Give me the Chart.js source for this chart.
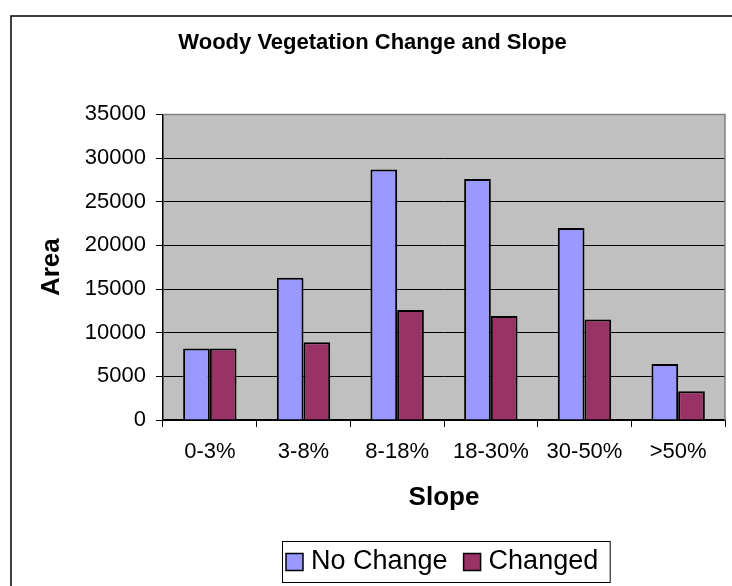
<!DOCTYPE html>
<html><head><meta charset="utf-8">
<style>html,body{margin:0;padding:0;background:#fff}#wrap{width:732px;height:586px;position:relative}canvas{display:block}</style>
<script src="https://cdn.jsdelivr.net/npm/chart.js@4"></script>
</head><body><div id="wrap"><canvas id="c" width="732" height="586"></canvas></div>
<script>
const categories = ['0-3%', '3-8%', '8-18%', '18-30%', '30-50%', '>50%'];
const noChange = [8200, 16300, 28700, 27600, 22000, 6400];
const changed = [8200, 8900, 12600, 11900, 11500, 3300];
const yTicks = [0, 5000, 10000, 15000, 20000, 25000, 30000, 35000];
const titleText = 'Woody Vegetation Change and Slope';
const seriesNames = ['No Change', 'Changed'];

const FAMILY = '"Liberation Sans", Arial, sans-serif';

const frameAndBg = {
  id: 'frameAndBg',
  beforeDraw(chart) {
    const {ctx, chartArea: a} = chart;
    ctx.save();
    ctx.fillStyle = '#fff';
    ctx.fillRect(0, 0, chart.width, chart.height);
    ctx.fillStyle = '#C0C0C0';
    ctx.fillRect(a.left, a.top, a.right - a.left, a.bottom - a.top);
    ctx.restore();
  },
  afterLayout(chart) {
    const t = chart.titleBlock;
    if (t) { t.left += 10; t.right += 10; }
  },
  afterDraw(chart) {
    const {ctx, chartArea: a} = chart;
    ctx.save();
    // plot area top/right border (gray)
    ctx.strokeStyle = '#808080';
    ctx.lineWidth = 1.5;
    ctx.beginPath();
    ctx.moveTo(a.left, a.top);
    ctx.lineTo(a.right, a.top);
    ctx.lineTo(a.right, a.bottom);
    ctx.stroke();
    // outer chart frame
    ctx.strokeStyle = '#000';
    ctx.lineWidth = 1.5;
    ctx.strokeRect(11, 16, 800, 700);
    // legend
    ctx.font = '27px ' + FAMILY;
    ctx.textBaseline = 'middle';
    ctx.textAlign = 'left';
    const cy = 562, box = 17;
    let x = 286;
    const start = x;
    chart.data.datasets.forEach((ds) => {
      ctx.fillStyle = ds.backgroundColor;
      ctx.fillRect(x, cy - box / 2, box, box);
      ctx.strokeStyle = '#000';
      ctx.lineWidth = 1.5;
      ctx.strokeRect(x, cy - box / 2, box, box);
      x += box + 8;
      ctx.fillStyle = '#000';
      ctx.fillText(ds.label, x, cy);
      x += ctx.measureText(ds.label).width + 16;
    });
    const end = x - 16 + 12;
    ctx.strokeStyle = '#000';
    ctx.lineWidth = 1;
    ctx.strokeRect(start - 3.5, 541.5, end - (start - 3.5), 41);
    ctx.restore();
  }
};

new Chart(document.getElementById('c'), {
  type: 'bar',
  data: {
    labels: categories,
    datasets: [
      {label: seriesNames[0], data: noChange, backgroundColor: '#9999FF', borderColor: '#000', borderWidth: 2, categoryPercentage: 0.57, barPercentage: 1.0},
      {label: seriesNames[1], data: changed, backgroundColor: '#993366', borderColor: '#000', borderWidth: 2, categoryPercentage: 0.57, barPercentage: 1.0}
    ]
  },
  options: {
    responsive: false,
    devicePixelRatio: 1,
    animation: false,
    layout: {padding: {left: 0, right: 7, top: 0, bottom: 66}},
    plugins: {
      legend: {display: false},
      tooltip: {enabled: false},
      title: {
        display: true, text: titleText, color: '#000',
        font: {family: FAMILY, size: 22, weight: 'bold'},
        padding: {top: 30, bottom: 58}
      }
    },
    scales: {
      x: {
        offset: true,
        afterFit: s => { s.height = 100; },
        grid: {offset: true, drawOnChartArea: false, color: '#000', tickLength: 7, lineWidth: 1},
        border: {color: '#000', width: 1.5},
        ticks: {color: '#000', font: {family: FAMILY, size: 22}, padding: 12, maxRotation: 0, autoSkip: false},
        title: {display: true, text: 'Slope', color: '#000', font: {family: FAMILY, size: 26, weight: 'bold'}, padding: {top: 0, bottom: 7}}
      },
      y: {
        min: 0, max: 35000,
        afterBuildTicks: s => { s.ticks = yTicks.map(v => ({value: v})); },
        afterFit: s => { s.width = 163; },
        grid: {color: '#000', tickLength: 7, lineWidth: 1},
        border: {color: '#000', width: 1.5},
        ticks: {color: '#000', font: {family: FAMILY, size: 22}, padding: 10, callback: v => String(v)},
        title: {display: true, text: 'Area', color: '#000', font: {family: FAMILY, size: 26, weight: 'bold'}, padding: {top: 36, bottom: 0}}
      }
    }
  },
  plugins: [frameAndBg]
});
</script>
</body></html>
